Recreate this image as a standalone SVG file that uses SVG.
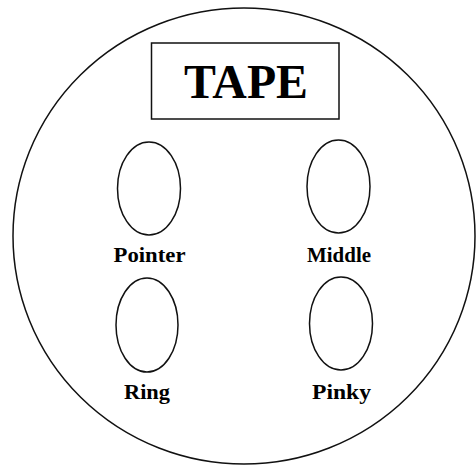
<svg xmlns="http://www.w3.org/2000/svg" width="476" height="466" viewBox="0 0 476 466">
<style>
.s{fill:none;stroke:#111;stroke-width:1.5}
.lbl{font-family:"Liberation Serif","Times New Roman",serif;font-weight:bold;font-size:22px;fill:#000;text-anchor:middle}
</style>
<rect width="476" height="466" fill="#fff"/>
<g id="outer"><ellipse class="s" cx="244" cy="236" rx="231" ry="228"/></g>
<g id="tape">
<rect class="s" x="151.5" y="43" width="187.5" height="76"/>
<text x="246" y="98" font-family="'Liberation Serif','Times New Roman',serif" font-weight="bold" font-size="48" text-anchor="middle" textLength="124" lengthAdjust="spacingAndGlyphs">TAPE</text>
</g>
<g id="pointer"><ellipse class="s" cx="149" cy="188.5" rx="31.5" ry="46.5"/><text class="lbl" x="149.5" y="262" textLength="72" lengthAdjust="spacingAndGlyphs">Pointer</text></g>
<g id="middle"><ellipse class="s" cx="338.5" cy="186.5" rx="31.5" ry="46.5"/><text class="lbl" x="339" y="262" textLength="64" lengthAdjust="spacingAndGlyphs">Middle</text></g>
<g id="ring"><ellipse class="s" cx="147" cy="325" rx="31" ry="47"/><text class="lbl" x="147" y="399" textLength="46" lengthAdjust="spacingAndGlyphs">Ring</text></g>
<g id="pinky"><ellipse class="s" cx="341" cy="323.5" rx="31.5" ry="46.5"/><text class="lbl" x="341.5" y="399" textLength="59" lengthAdjust="spacingAndGlyphs">Pinky</text></g>
<g id="connectors"/>
</svg>
